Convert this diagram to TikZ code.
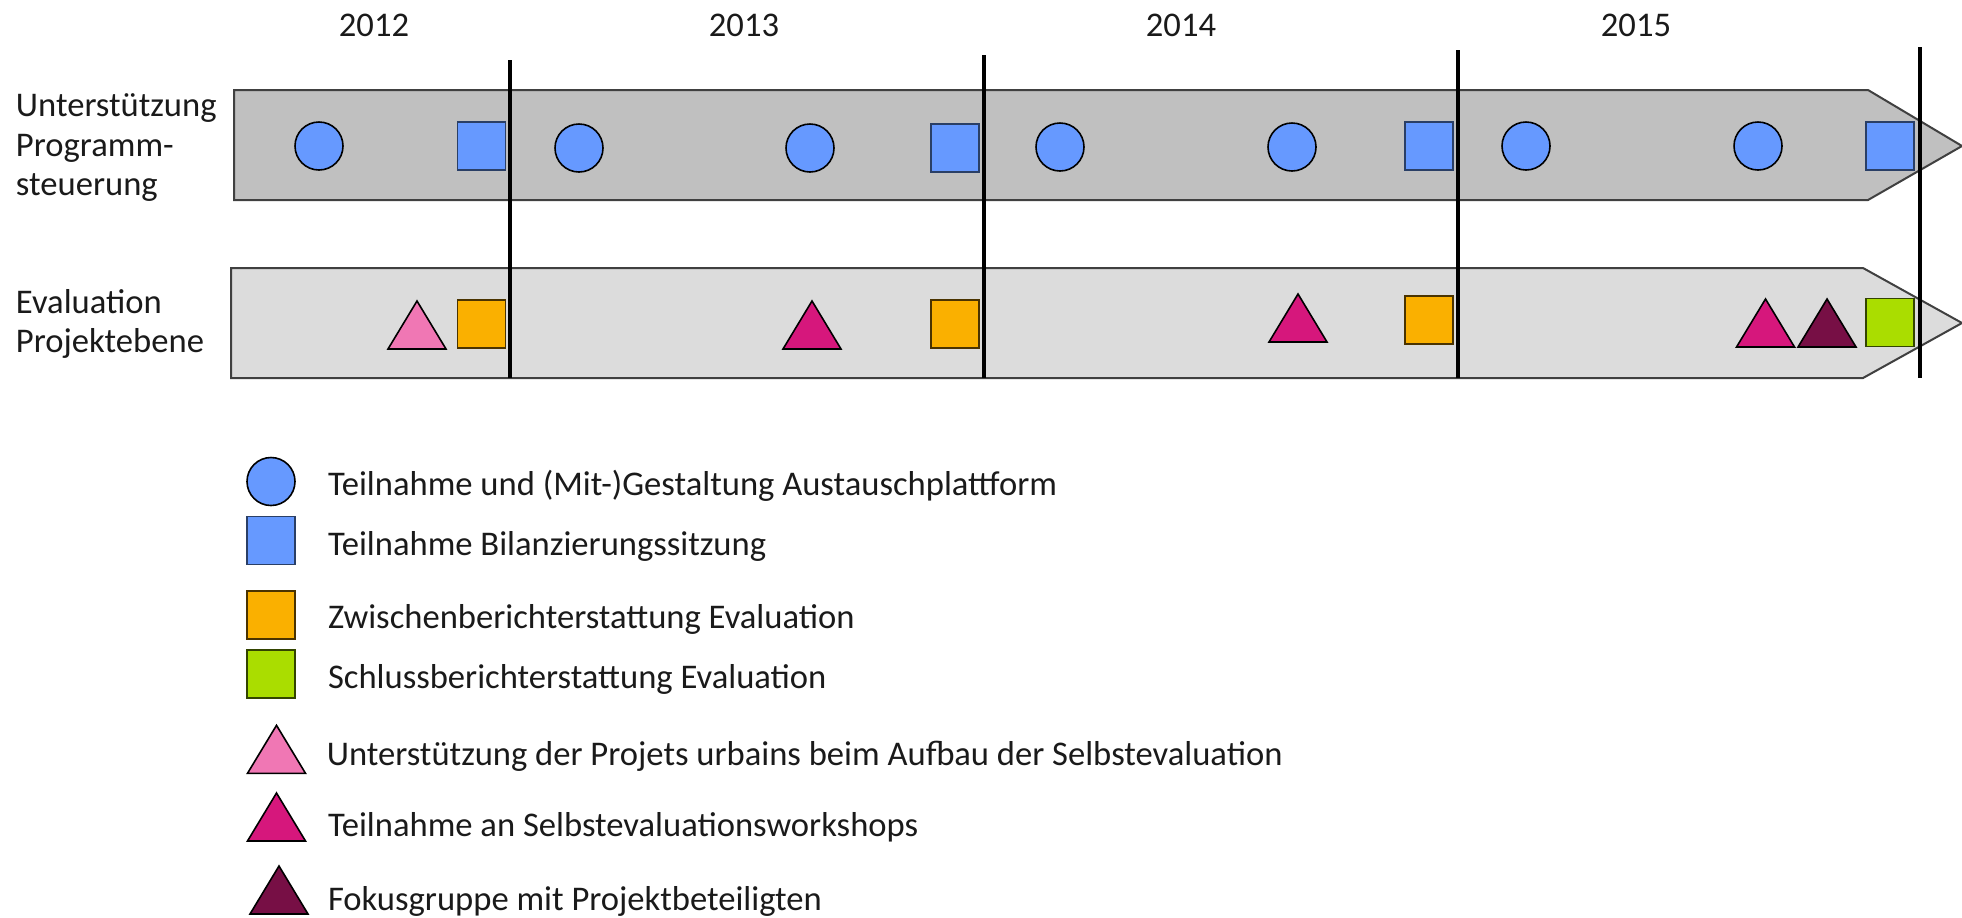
\documentclass[tikz,border=0pt]{standalone}
\usepackage{fontspec}
\setmainfont{Carlito}
\usetikzlibrary{shapes.geometric}
\definecolor{bandA}{HTML}{C0C0C0}
\definecolor{bandB}{HTML}{DCDCDC}
\definecolor{bandline}{HTML}{404040}
\definecolor{evblue}{HTML}{6699FF}
\definecolor{evblueline}{HTML}{2A3F66}
\definecolor{evorange}{HTML}{FAB000}
\definecolor{evorangeline}{HTML}{4A3300}
\definecolor{evgreen}{HTML}{AADD00}
\definecolor{evgreenline}{HTML}{334400}
\definecolor{evpink}{HTML}{F077B4}
\definecolor{evmagenta}{HTML}{D6177C}
\definecolor{evdark}{HTML}{770F45}
\definecolor{txt}{HTML}{1A1A1A}
\begin{document}
\begin{tikzpicture}[x=0.5pt,y=-0.5pt,
  band/.style={draw=bandline, line width=1pt},
  yearline/.style={draw=black, line width=1.6pt},
  circ/.style={circle, draw=black, line width=0.8pt, fill=evblue, minimum size=24pt, inner sep=0pt},
  sqbox/.style={rectangle, line width=0.8pt, minimum size=24pt, inner sep=0pt},
  bluesq/.style={sqbox, draw=evblueline, fill=evblue},
  orangesq/.style={sqbox, draw=evorangeline, fill=evorange},
  greensq/.style={sqbox, draw=evgreenline, fill=evgreen},
  pics/tri/.style={code={\draw[draw=black, line width=0.8pt, fill=#1, line join=miter] (-29,0) -- (0,-48) -- (29,0) -- cycle;}},
  lbl/.style={anchor=base west, inner sep=0pt, text=txt, font=\fontsize{17.3}{20}\selectfont},
  yr/.style={anchor=base, inner sep=0pt, text=txt, font=\fontsize{17.3}{20}\selectfont}
]
\useasboundingbox (0,0) rectangle (1962,917);

% bands
\draw[band, fill=bandA] (234,90) -- (1868,90) -- (1962,146) -- (1868,200) -- (234,200) -- cycle;
\draw[band, fill=bandB] (231,268) -- (1863,268) -- (1962,323) -- (1863,378) -- (231,378) -- cycle;

% years
\node[yr] (y2012) at (374,36.7) {2012};
\node[yr] (y2013) at (744,36.7) {2013};
\node[yr] (y2014) at (1181,36.7) {2014};
\node[yr] (y2015) at (1636,36.7) {2015};

% row labels
\node[lbl] (l1a) at (15.6,116.7) {Unterstützung};
\node[lbl] (l1b) at (15.6,156.7) {Programm-};
\node[lbl] (l1c) at (15.6,195.5) {steuerung};
\node[lbl] (l2a) at (15.6,313.3) {Evaluation};
\node[lbl] (l2b) at (15.6,352.7) {Projektebene};

% top row
\node[circ] (c1) at (319,146) {};
\node[bluesq] (s1) at (481.5,146) {};
\node[circ] (c2) at (579,148) {};
\node[circ] (c3) at (810,148) {};
\node[bluesq] (s2) at (955,148) {};
\node[circ] (c4) at (1060,147) {};
\node[circ] (c5) at (1292,147) {};
\node[bluesq] (s3) at (1429,146) {};
\node[circ] (c6) at (1526,146) {};
\node[circ] (c7) at (1758,146) {};
\node[bluesq] (s4) at (1890,146) {};

% bottom row
\pic (t1) at (417,349) {tri=evpink};
\node[orangesq] (o1) at (481.5,324) {};
\pic (t2) at (812,349) {tri=evmagenta};
\node[orangesq] (o2) at (955,324) {};
\pic (t3) at (1298,342) {tri=evmagenta};
\node[orangesq] (o3) at (1429,320) {};
\pic (t4) at (1765.5,347) {tri=evmagenta};
\pic (t5) at (1827,347) {tri=evdark};
\node[greensq] (g1) at (1890,322.5) {};

% year separators
\coordinate (v1t) at (510,60);  \coordinate (v1b) at (510,378);
\coordinate (v2t) at (984,55);  \coordinate (v2b) at (984,378);
\coordinate (v3t) at (1458,50); \coordinate (v3b) at (1458,378);
\coordinate (v4t) at (1920,47); \coordinate (v4b) at (1920,378);
\draw[yearline] (v1t) -- (v1b);
\draw[yearline] (v2t) -- (v2b);
\draw[yearline] (v3t) -- (v3b);
\draw[yearline] (v4t) -- (v4b);

% legend
\node[circ] (lc) at (271,481.5) {};
\node[lbl] (lt1) at (327.6,495) {Teilnahme und (Mit-)Gestaltung Austauschplattform};
\node[bluesq] (ls1) at (271,540.5) {};
\node[lbl] (lt2) at (327.6,555.5) {Teilnahme Bilanzierungssitzung};
\node[orangesq] (ls2) at (271,615) {};
\node[lbl] (lt3) at (327.6,628.3) {Zwischenberichterstattung Evaluation};
\node[greensq] (ls3) at (271,674) {};
\node[lbl] (lt4) at (327.6,688.3) {Schlussberichterstattung Evaluation};
\pic (lp1) at (276.5,773.3) {tri=evpink};
\node[lbl] (lt5) at (326.4,765) {Unterstützung der Projets urbains beim Aufbau der Selbstevaluation};
\pic (lp2) at (276.5,841) {tri=evmagenta};
\node[lbl] (lt6) at (327.6,836.7) {Teilnahme an Selbstevaluationsworkshops};
\pic (lp3) at (279,914) {tri=evdark};
\node[lbl] (lt7) at (327.6,910) {Fokusgruppe mit Projektbeteiligten};
\end{tikzpicture}
\end{document}
